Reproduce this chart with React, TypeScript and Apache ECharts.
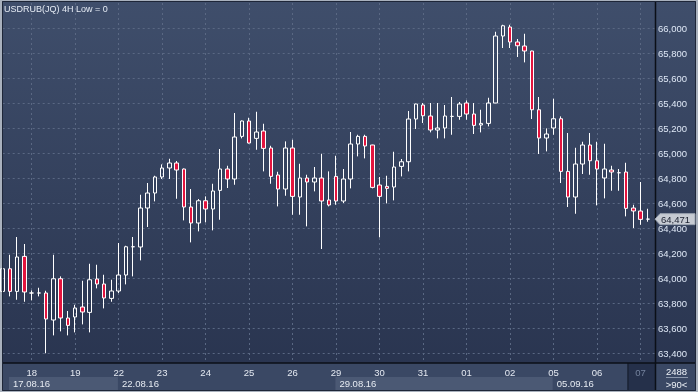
import React, { useEffect, useRef } from 'react';
import * as echarts from 'echarts';

const title = 'USDRUB(JQ) 4H Low = 0';
const days = ['17', '18', '19', '22', '23', '24', '25', '26', '29', '30', '31', '01', '02', '05', '06', '07'];
const months = ['08', '08', '08', '08', '08', '08', '08', '08', '08', '08', '08', '09', '09', '09', '09', '09'];
const hours = ['00', '04', '08', '12', '16', '20'];
const firstHourIndex = 2;
const candleCount = 90;

const opens = [
  63893, 64074, 63893, 64173, 63880, 63880, 63880, 63664, 63994, 63680,
  63688, 63768, 63725, 63992, 63952, 63837, 63896, 64024, 64250, 64248,
  64560, 64680, 64808, 64880, 64920, 64872, 64568, 64440, 64618, 64552,
  64701, 64872, 64792, 65133, 65256, 65117, 65176, 65040, 64824, 64712,
  65040, 64648, 64800, 64768, 64800, 64624, 64813, 64616, 64792, 65072,
  65133, 65064, 64744, 64733, 64728, 64893, 64930, 65272, 65384, 65296,
  65184, 65200, 65293, 65293, 65400, 65312, 65224, 65237, 65400, 65936,
  66008, 65888, 65856, 65816, 65346, 65120, 65200, 65274, 64853, 64648,
  64912, 65064, 64938, 64800, 64864, 64842, 64848, 64560, 64536, 64471,
];
const closes = [
  64074, 63893, 64168, 63888, 63880, 63880, 63672, 63994, 63680, 63621,
  63760, 63728, 63986, 63952, 63840, 63896, 64024, 64250, 64250, 64560,
  64680, 64808, 64880, 64920, 64864, 64568, 64440, 64618, 64552, 64696,
  64872, 64792, 65128, 65256, 65080, 65168, 65037, 64813, 64712, 65040,
  64653, 64800, 64768, 64800, 64616, 64584, 64616, 64792, 65072, 65133,
  65056, 64725, 64653, 64717, 64888, 64930, 65272, 65392, 65298, 65184,
  65200, 65296, 65293, 65392, 65312, 65221, 65237, 65400, 65936, 66018,
  65888, 65858, 65816, 65346, 65120, 65152, 65274, 64853, 64648, 64912,
  65064, 64938, 64872, 64872, 64848, 64842, 64557, 64536, 64469, 64471,
];
const lows = [
  63880, 63853, 63826, 63810, 63821, 63853, 63398, 63541, 63573, 63541,
  63565, 63629, 63565, 63917, 63757, 63810, 63880, 63949, 64013, 64141,
  64408, 64613, 64792, 64792, 64634, 64461, 64285, 64373, 64445, 64381,
  64466, 64720, 64746, 65117, 65076, 65026, 64853, 64754, 64573, 64658,
  64506, 64506, 64413, 64693, 64232, 64573, 64586, 64600, 64717, 64973,
  64957, 64717, 64325, 64597, 64621, 64813, 64853, 65192, 65240, 65165,
  65117, 65117, 65146, 65266, 65266, 65152, 65165, 65213, 65398, 65840,
  65840, 65768, 65725, 65272, 64992, 65013, 65146, 64760, 64568, 64514,
  64832, 64826, 64581, 64637, 64698, 64698, 64493, 64400, 64426, 64450,
];
const highs = [
  64090, 64186, 64328, 64272, 63901, 63922, 63898, 64186, 64013, 63736,
  63786, 63978, 64114, 64106, 64026, 63986, 64280, 64258, 64328, 64666,
  64760, 64818, 64909, 64954, 64936, 64876, 64712, 64632, 64653, 64754,
  65032, 64898, 65320, 65260, 65282, 65330, 65234, 65058, 64850, 65093,
  65106, 64914, 64826, 64888, 64994, 64853, 64978, 64872, 65168, 65146,
  65146, 65066, 64808, 64818, 65010, 64952, 65336, 65395, 65400, 65400,
  65400, 65384, 65448, 65408, 65421, 65400, 65346, 65442, 65970, 66026,
  66026, 65912, 65954, 65818, 65448, 65197, 65434, 65293, 65160, 65042,
  65090, 65160, 65090, 65074, 64898, 64872, 64922, 64586, 64768, 64554,
];

// visible price range of the plot and the labelled tick grid
const plotMin = 63320;
const plotMax = 66200;
const tickMin = 63200;
const tickMax = 66200;
const tickStep = 200;
const weekLabels = ['17.08.16', '22.08.16', '29.08.16', '05.09.16'];
const weekStartDays = ['17.08', '22.08', '29.08', '05.09'];
const currentDay = '07.09';
const footerTop = '2488';
const footerBottom = '>90<';

const FONT = '"Liberation Sans", Arial, sans-serif';
const fontSize = 9.5;

function buildCategories(): string[] {
  const all: string[] = [];
  days.forEach((d, di) => hours.forEach((h) => all.push(`${d}.${months[di]} ${h}:00`)));
  return all.slice(firstHourIndex, firstHourIndex + candleCount + 1);
}

export default function App() {
  const ref = useRef<HTMLDivElement>(null);
  useEffect(() => {
    const el = ref.current!;
    const chart = echarts.init(el, null, { renderer: 'svg', width: 698, height: 392 });
    const cats = buildCategories();
    const isDayStart = cats.map((c) => c.slice(6) === '00:00');
    const data = opens.map((o, i) => [o, closes[i], lows[i], highs[i]]);
    const fmt = (v: number) => v.toLocaleString('en-US');
    const grid = '#5a6883';

    chart.setOption({
      animation: false,
      grid: [
        { left: 2.7, width: 652.3, top: 3, height: 360, outerBoundsMode: 'none', containLabel: false },
        { left: 2.7, width: 652.3, top: 3, height: 375, outerBoundsMode: 'none', containLabel: false },
      ],
      xAxis: [
        {
          type: 'category',
          gridIndex: 0,
          data: cats,
          boundaryGap: false,
          axisLine: { show: false, onZero: false },
          axisTick: { show: false },
          axisLabel: { show: false },
          splitLine: {
            show: true,
            interval: (i: number) => isDayStart[i],
            lineStyle: { color: grid, type: [2, 3], width: 1 },
          },
        },
        {
          type: 'category',
          gridIndex: 1,
          data: cats,
          boundaryGap: false,
          show: false,
          axisLine: { show: false },
          axisTick: { show: false },
          axisLabel: { show: false },
          splitLine: { show: false },
        },
      ],
      yAxis: [
        {
          type: 'value',
          gridIndex: 0,
          position: 'right',
          min: plotMin,
          max: plotMax,
          show: false,
          splitLine: { show: false },
        },
        {
          type: 'value',
          gridIndex: 1,
          position: 'right',
          min: tickMin,
          max: tickMax,
          interval: tickStep,
          axisLine: { show: false },
          axisTick: { show: false },
          axisLabel: {
            formatter: (v: number) => (v <= tickMin || v >= tickMax ? '' : fmt(v)),
            color: '#dfe8f6',
            fontSize,
            fontFamily: FONT,
            margin: 3,
          },
          splitLine: {
            show: true,
            showMinLine: false,
            showMaxLine: false,
            lineStyle: { color: grid, type: [2, 3], width: 1 },
          },
        },
      ],
      series: [
        {
          type: 'candlestick',
          xAxisIndex: 0,
          yAxisIndex: 0,
          data,
          barWidth: 4,
          clip: true,
          itemStyle: {
            color: 'rgba(0,0,0,0)',
            color0: '#e3143e',
            borderColor: '#ffffff',
            borderColor0: '#ffffff',
            borderColorDoji: '#ffffff',
            borderWidth: 1,
          },
        },
      ],
    });

    const xp = (i: number) => chart.convertToPixel({ xAxisIndex: 0 }, i) as number;
    const yp = (v: number) => chart.convertToPixel({ yAxisIndex: 0 }, v) as number;
    const axisY = 363;
    const axisX = 655.5;
    const curIdx = cats.findIndex((c) => c.slice(0, 5) === currentDay);
    const curLeft = xp(curIdx) - 12.5;
    const weekStarts = weekStartDays.map((w) => cats.findIndex((c) => c.slice(0, 5) === w));
    const textFont = `${fontSize}px ${FONT}`;

    const elements: any[] = [
      { type: 'rect', z: -20, shape: { x: 0, y: 0, width: 698, height: 392 }, style: { fill: '#a9b1bd' } },
      {
        type: 'rect', z: -19, shape: { x: 2, y: 1, width: 694, height: 390 },
        style: {
          fill: new echarts.graphic.LinearGradient(0, 0, 0, 1, [
            { offset: 0, color: '#3f4e6b' },
            { offset: 1, color: '#28334e' },
          ]),
        },
      },
      { type: 'rect', z: 20, shape: { x: 2, y: axisY, width: 694, height: 28 }, style: { fill: '#3a4864' } },
    ];

    weekStarts.forEach((s, k) => {
      const x0 = Math.max(9, xp(s) - 0.7);
      const x1 = k + 1 < weekStarts.length ? xp(weekStarts[k + 1]) - 0.7 : curLeft;
      elements.push({
        type: 'rect', z: 21, shape: { x: x0, y: 377, width: x1 - x0, height: 13 },
        style: { fill: k % 2 === 0 ? '#4b5974' : '#3a4864' },
      });
      elements.push({
        type: 'text', z: 22,
        style: { text: weekLabels[k], x: x0 + 4, y: 383.5, fill: '#e6ebf2', font: textFont, align: 'left', verticalAlign: 'middle' },
      });
    });

    elements.push(
      { type: 'rect', z: 22, shape: { x: curLeft, y: axisY, width: axisX - curLeft, height: 28 }, style: { fill: '#25304a' } },
      { type: 'line', z: 22, shape: { x1: curLeft, y1: axisY, x2: curLeft, y2: 391 }, style: { stroke: '#1a2234', lineWidth: 1.5 } },
    );

    cats.forEach((c, i) => {
      if (!isDayStart[i]) return;
      elements.push({
        type: 'text', z: 23,
        style: {
          text: c.slice(0, 2), x: xp(i), y: 372, font: textFont, align: 'center', verticalAlign: 'middle',
          fill: c.slice(0, 5) === currentDay ? '#74829d' : '#e4e9f1',
        },
      });
    });

    elements.push(
      { type: 'text', z: 23, style: { text: footerTop, x: 676.5, y: 371.5, fill: '#eef2f8', font: textFont, align: 'center', verticalAlign: 'middle' } },
      { type: 'line', z: 23, shape: { x1: 666, y1: 377.5, x2: 688, y2: 377.5 }, style: { stroke: '#8d99ad', lineWidth: 1 } },
      { type: 'text', z: 23, style: { text: footerBottom, x: 676.5, y: 384, fill: '#eef2f8', font: textFont, align: 'center', verticalAlign: 'middle' } },
      { type: 'line', z: 24, shape: { x1: 2, y1: axisY, x2: 696, y2: axisY }, style: { stroke: '#0b0f17', lineWidth: 1.5 } },
      { type: 'line', z: 24, shape: { x1: axisX, y1: 1, x2: axisX, y2: 391 }, style: { stroke: '#0b0f17', lineWidth: 1.5 } },
      { type: 'rect', z: 24, shape: { x: 2.5, y: 1.5, width: 693, height: 389 }, style: { fill: 'none', stroke: '#1e2638', lineWidth: 1 } },
      {
        type: 'text', z: 25,
        style: { text: title, x: 4, y: 8.5, fill: '#e6ecf5', font: `9px ${FONT}`, align: 'left', verticalAlign: 'middle' },
      },
    );

    const last = closes[closes.length - 1];
    const ly = yp(last);
    elements.push(
      {
        type: 'polygon', z: 25,
        shape: { points: [[655, ly], [660, ly - 5.5], [695, ly - 5.5], [695, ly + 5.5], [660, ly + 5.5]] },
        style: { fill: '#c6cbd3', stroke: '#9aa3b1', lineWidth: 1 },
      },
      {
        type: 'text', z: 26,
        style: { text: fmt(last), x: 661, y: ly + 0.5, fill: '#1a2030', font: textFont, align: 'left', verticalAlign: 'middle' },
      },
    );

    chart.setOption({ graphic: { elements } });
    return () => chart.dispose();
  }, []);
  return <div ref={ref} style={{ position: 'fixed', left: 0, top: 0, width: 698, height: 392 }} />;
}
